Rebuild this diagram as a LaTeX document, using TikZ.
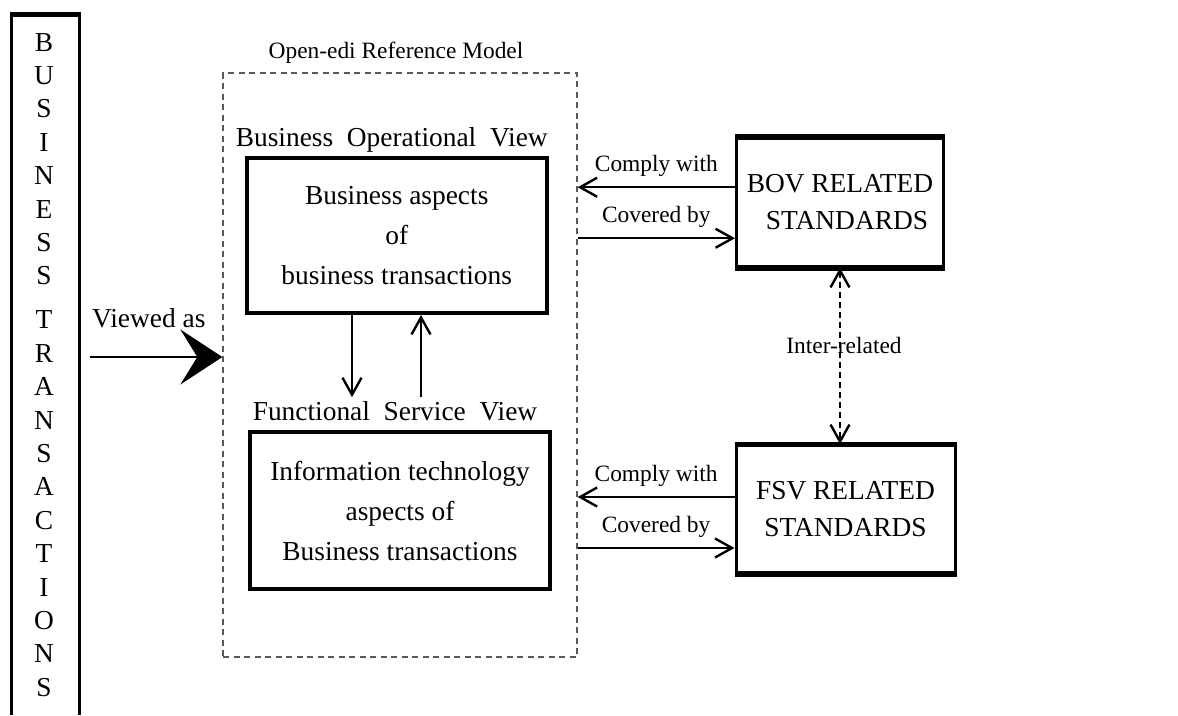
\documentclass[tikz,border=0pt]{standalone}
\usepackage{fontspec}
\setmainfont{Liberation Serif}
\usetikzlibrary{arrows.meta,positioning}

\newcommand{\boxfont}{\fontsize{27.4}{40}\selectfont}
\newcommand{\stdfont}{\fontsize{27.4}{37}\selectfont}
\newcommand{\tagfont}{\fontsize{23.4}{28}\selectfont}

\begin{document}
\begin{tikzpicture}[x=1pt, y=-1pt,
          view/.style={draw, line width=4pt, align=center, font=\boxfont},
          stdbox/.style={draw, line width=3pt, align=center, font=\stdfont,
                         minimum width=207pt, minimum height=127pt},
          head/.style={font=\boxfont, inner sep=0pt},
          tag/.style={font=\tagfont, inner sep=0pt},
          refmodel/.style={draw=black!65, line width=1.3pt,
                           dash pattern=on 6pt off 4.5pt},
          barb/.tip={Straight Barb[length=17pt,width=19pt,line width=2.4pt]},
          arr/.style={-barb, line width=1.8pt},
          link/.style={barb-barb, line width=1.3pt, dash pattern=on 6pt off 4pt}
        ]
          \useasboundingbox (0,0) rectangle (1178,715);

          % business transactions column on the left
          \node[font=\fontsize{27.4}{33.4}\selectfont, align=center, inner sep=0pt,
                anchor=north] (bt) at (44,33)
                {B\\U\\S\\I\\N\\E\\S\\S\\[10.6pt]T\\R\\A\\N\\S\\A\\C\\T\\I\\O\\N\\S};
          \draw[line width=3pt] (11,715) -- (11,14.5);
          \draw[line width=3pt] (79.5,14.5) -- (79.5,715);
          \draw[line width=5pt] (9.5,14.5) -- (81,14.5);

          % reference model and its two views
          \node[refmodel, minimum width=354pt, minimum height=584pt] (rm) at (400,365) {};
          \node[tag, above=9pt of rm.north, xshift=-4pt] (rmtitle) {Open-edi Reference Model};

          \node[view, minimum width=300.5pt, minimum height=155pt] (bov) at (396.75,235.5)
                {Business aspects\\of\\business transactions};
          \node[view, minimum width=300pt, minimum height=157pt] (fsv) at (400,510.5)
                {Information technology\\aspects of\\Business transactions};
          \node[head, above=3.4pt of bov.north, xshift=-5pt] (bovhead)
                {Business\ \ Operational\ \ View};
          \node[head, above=9pt of fsv.north, xshift=-5pt] (fsvhead)
                {Functional\ \ Service\ \ View};

          \draw[arr] ([xshift=-44.75pt]bov.south) -- ([xshift=-44.75pt,yshift=4pt]bov.south |- fsvhead.north);
          \draw[arr] ([xshift=24.25pt,yshift=4pt]bov.south |- fsvhead.north) -- ([xshift=24.25pt]bov.south);

          % viewed as
          \coordinate (vstart) at (90,357);
          \draw[line width=1.3pt, -{Stealth[length=42pt,width=55pt,inset=17pt]}]
                (vstart) -- (vstart -| rm.west);
          \node[head, above right=29pt and 2pt of vstart] (viewed) {Viewed as};

          % related standards
          \node[stdbox, minimum height=128.5pt] (bovstd) at (840,202.25)
                {BOV RELATED\\\hspace*{14pt}STANDARDS};
          \node[stdbox, minimum width=219pt] (fsvstd) at (845.5,509) {FSV RELATED\\STANDARDS};
          \draw[line width=6pt] (bovstd.north west) -- (bovstd.north east);
          \draw[line width=5pt] (bovstd.south west) -- (bovstd.south east);
          \draw[line width=5pt] (fsvstd.north west) -- (fsvstd.north east);
          \draw[line width=5pt] (fsvstd.south west) -- (fsvstd.south east);

          \draw[arr] ([yshift=15pt]bovstd.west) -- ([yshift=15pt]bovstd.west -| rm.east)
                node[tag, midway, above=10pt] {Comply with};
          \draw[arr] ([yshift=-36pt]bovstd.west -| rm.east) -- ([yshift=-36pt]bovstd.west)
                node[tag, midway, above=10pt] {Covered by};
          \draw[arr] ([yshift=12pt]fsvstd.west) -- ([yshift=12pt]fsvstd.west -| rm.east)
                node[tag, midway, above=10pt] {Comply with};
          \draw[arr] ([yshift=-39pt]fsvstd.west -| rm.east) -- ([yshift=-39pt]fsvstd.west)
                node[tag, midway, above=10pt] {Covered by};

          \draw[link] (bovstd.south) -- (bovstd.south |- fsvstd.north)
                node[tag, pos=0.44, xshift=4pt] {Inter-related};
        \end{tikzpicture}
\end{document}
